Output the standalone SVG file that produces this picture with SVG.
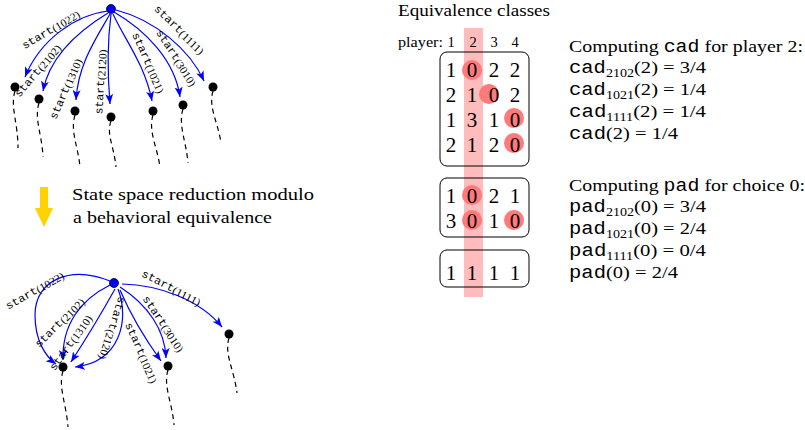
<svg xmlns="http://www.w3.org/2000/svg" width="805" height="430" viewBox="0 0 805 430">
<defs>
<style>
.edge{fill:none;stroke:#0000ff;stroke-width:1.2;marker-end:url(#arr)}
.dash{fill:none;stroke:#000;stroke-width:1.2;stroke-dasharray:5,4}
.lbl{font-family:"Liberation Serif","Times New Roman",serif;font-size:11px;fill:#000}
.tt{font-family:"Liberation Mono","Courier New",monospace;font-weight:normal}
.txt{font-family:"Liberation Serif","Times New Roman",serif;font-size:17.5px;fill:#000}
.dig{font-family:"Liberation Serif","Times New Roman",serif;font-size:21px;fill:#000;text-anchor:middle}
.hdr{font-family:"Liberation Serif","Times New Roman",serif;font-size:14.5px;fill:#000}
.box{fill:none;stroke:#000;stroke-width:1}
.hl{fill:#ff7a7a}
.leaf{fill:#000}
.root{fill:#0000ff;stroke:#000;stroke-width:0.8}
.sub{font-size:12px}
</style>
<marker id="arr" viewBox="0 0 10 8" refX="10" refY="4" markerWidth="10" markerHeight="8" markerUnits="userSpaceOnUse" orient="auto">
<path d="M0,0 L10,4 L0,8 L2.5,4 z" fill="#0000ff"/>
</marker>
</defs>

<!-- Top tree -->
<g id="top-edges">
<path class="edge" d="M108,11 C75,15 40,40 25,77"/>
<path class="edge" d="M108,13 C80,30 50,55 43,91"/>
<path class="edge" d="M110,14 C95,40 78,65 76,100"/>
<path class="edge" d="M111,14 C107,45 108,80 110,104"/>
<path class="edge" d="M113,14 C125,40 145,65 152,101"/>
<path class="edge" d="M114,12 C145,30 175,60 180,97"/>
<path class="edge" d="M116,10 C155,20 190,50 204,81"/>
</g>
<g id="top-labels">
<text class="lbl" text-anchor="middle" dominant-baseline="central" textLength="65" lengthAdjust="spacingAndGlyphs" transform="translate(51,30) rotate(-31)"><tspan class="tt">start</tspan>(1022)</text>
<text class="lbl" text-anchor="middle" dominant-baseline="central" textLength="65" lengthAdjust="spacingAndGlyphs" transform="translate(38,71) rotate(-50)"><tspan class="tt">start</tspan>(2102)</text>
<text class="lbl" text-anchor="middle" dominant-baseline="central" textLength="65" lengthAdjust="spacingAndGlyphs" transform="translate(66,89) rotate(-67)"><tspan class="tt">start</tspan>(1310)</text>
<text class="lbl" text-anchor="middle" dominant-baseline="central" textLength="65" lengthAdjust="spacingAndGlyphs" transform="translate(101,82) rotate(-87)"><tspan class="tt">start</tspan>(2120)</text>
<text class="lbl" text-anchor="middle" dominant-baseline="central" textLength="65" lengthAdjust="spacingAndGlyphs" transform="translate(148,63) rotate(66)"><tspan class="tt">start</tspan>(1021)</text>
<text class="lbl" text-anchor="middle" dominant-baseline="central" textLength="65" lengthAdjust="spacingAndGlyphs" transform="translate(176,58) rotate(57)"><tspan class="tt">start</tspan>(3010)</text>
<text class="lbl" text-anchor="middle" dominant-baseline="central" textLength="65" lengthAdjust="spacingAndGlyphs" transform="translate(179,30) rotate(44)"><tspan class="tt">start</tspan>(1111)</text>
</g>
<g id="top-dashes">
<path class="dash" d="M15,91 C10,107 18,122 18,148"/>
<path class="dash" d="M39,103 C34,119 42,134 43,157"/>
<path class="dash" d="M75,115 C70,131 78,146 80,167"/>
<path class="dash" d="M111,121 C106,134 114,146 116,167"/>
<path class="dash" d="M153,115 C148,131 157,146 160,167"/>
<path class="dash" d="M183,109 C178,125 186,140 188,163"/>
<path class="dash" d="M213,91 C208,107 218,122 221,143"/>
</g>
<g id="top-root"><circle class="root" cx="111" cy="9" r="4.5"/></g>
<g id="top-n1022"><circle class="leaf" cx="15" cy="87" r="4.5"/></g>
<g id="top-n2102"><circle class="leaf" cx="39" cy="99" r="4.5"/></g>
<g id="top-n1310"><circle class="leaf" cx="75" cy="111" r="4.5"/></g>
<g id="top-n2120"><circle class="leaf" cx="111" cy="117" r="4.5"/></g>
<g id="top-n1021"><circle class="leaf" cx="153" cy="111" r="4.5"/></g>
<g id="top-n3010"><circle class="leaf" cx="183" cy="105" r="4.5"/></g>
<g id="top-n1111"><circle class="leaf" cx="213" cy="87" r="4.5"/></g>

<!-- Reduction arrow -->
<g id="reduction">
<path d="M40,187 H48 V208 H53 L44,227 L35,208 H40 Z" fill="#ffd200"/>
<text class="txt" x="72" y="200" textLength="242" lengthAdjust="spacingAndGlyphs">State space reduction modulo</text>
<text class="txt" x="73" y="223" textLength="199" lengthAdjust="spacingAndGlyphs">a behavioral equivalence</text>
</g>

<!-- Bottom tree -->
<g id="bottom-edges">
<path class="edge" d="M110,281 C70,265 35,280 35,315 C35,340 45,356 56,364"/>
<path class="edge" d="M110,285 C80,300 62,325 63,360"/>
<path class="edge" d="M115,289 Q95,325 71,362"/>
<path class="edge" d="M118,289 C130,320 120,362 75,367"/>
<path class="edge" d="M120,290 Q135,325 161,361"/>
<path class="edge" d="M120,287 C148,305 165,330 166,358"/>
<path class="edge" d="M122,284 C160,285 200,300 222,327"/>
</g>
<g id="bottom-labels">
<text class="lbl" text-anchor="middle" dominant-baseline="central" textLength="65" lengthAdjust="spacingAndGlyphs" transform="translate(35,291) rotate(-30)"><tspan class="tt">start</tspan>(1022)</text>
<text class="lbl" text-anchor="middle" dominant-baseline="central" textLength="65" lengthAdjust="spacingAndGlyphs" transform="translate(60,323) rotate(-45)"><tspan class="tt">start</tspan>(2102)</text>
<text class="lbl" text-anchor="middle" dominant-baseline="central" textLength="65" lengthAdjust="spacingAndGlyphs" transform="translate(71,343) rotate(-55)"><tspan class="tt">start</tspan>(1310)</text>
<text class="lbl" text-anchor="middle" dominant-baseline="central" textLength="65" lengthAdjust="spacingAndGlyphs" transform="translate(112,328) rotate(107)"><tspan class="tt">start</tspan>(2120)</text>
<text class="lbl" text-anchor="middle" dominant-baseline="central" textLength="65" lengthAdjust="spacingAndGlyphs" transform="translate(141,353) rotate(66)"><tspan class="tt">start</tspan>(1021)</text>
<text class="lbl" text-anchor="middle" dominant-baseline="central" textLength="65" lengthAdjust="spacingAndGlyphs" transform="translate(163,324) rotate(56)"><tspan class="tt">start</tspan>(3010)</text>
<text class="lbl" text-anchor="middle" dominant-baseline="central" textLength="65" lengthAdjust="spacingAndGlyphs" transform="translate(171,288) rotate(27)"><tspan class="tt">start</tspan>(1111)</text>
</g>
<g id="bottom-dashes">
<path class="dash" d="M63,371 C58,387 66,402 68,427"/>
<path class="dash" d="M168,370 C163,386 172,401 174,425"/>
<path class="dash" d="M229,338 C224,354 234,369 237,393"/>
</g>
<g id="bottom-root"><circle class="root" cx="114" cy="283" r="4.5"/></g>
<g id="bottom-nA"><circle class="leaf" cx="63" cy="367" r="4.5"/></g>
<g id="bottom-nB"><circle class="leaf" cx="168" cy="366" r="4.5"/></g>
<g id="bottom-nC"><circle class="leaf" cx="229" cy="334" r="4.5"/></g>

<!-- Equivalence classes -->
<g id="equiv">
<text class="txt" x="398" y="16" textLength="152" lengthAdjust="spacingAndGlyphs">Equivalence classes</text>
<rect x="464" y="28" width="19" height="269" fill="#ffbcbc"/>
<text class="hdr" x="398" y="47" textLength="45" lengthAdjust="spacingAndGlyphs">player:</text>
<text class="hdr" x="451" y="47" text-anchor="middle">1</text>
<text class="hdr" x="473" y="47" text-anchor="middle">2</text>
<text class="hdr" x="494" y="47" text-anchor="middle">3</text>
<text class="hdr" x="515" y="47" text-anchor="middle">4</text>
</g>
<g id="class1">
<rect class="box" x="440" y="52" width="89" height="114" rx="7"/>
<circle class="hl" cx="472" cy="70" r="10"/>
<circle class="hl" cx="489" cy="94" r="10"/>
<circle class="hl" cx="514" cy="118" r="10"/>
<circle class="hl" cx="514" cy="143" r="10"/>
<text class="dig" y="76.5"><tspan x="451">1</tspan><tspan x="472">0</tspan><tspan x="494">2</tspan><tspan x="515">2</tspan></text>
<text class="dig" y="101.5"><tspan x="451">2</tspan><tspan x="472">1</tspan><tspan x="494">0</tspan><tspan x="515">2</tspan></text>
<text class="dig" y="126.5"><tspan x="451">1</tspan><tspan x="472">3</tspan><tspan x="494">1</tspan><tspan x="515">0</tspan></text>
<text class="dig" y="151.5"><tspan x="451">2</tspan><tspan x="472">1</tspan><tspan x="494">2</tspan><tspan x="515">0</tspan></text>
</g>
<g id="class2">
<rect class="box" x="440" y="178" width="89" height="59" rx="7"/>
<circle class="hl" cx="472" cy="195" r="10"/>
<circle class="hl" cx="472" cy="220" r="10"/>
<circle class="hl" cx="514" cy="220" r="10"/>
<text class="dig" y="202.5"><tspan x="451">1</tspan><tspan x="472">0</tspan><tspan x="494">2</tspan><tspan x="515">1</tspan></text>
<text class="dig" y="227.5"><tspan x="451">3</tspan><tspan x="472">0</tspan><tspan x="494">1</tspan><tspan x="515">0</tspan></text>
</g>
<g id="class3">
<rect class="box" x="440" y="250" width="89" height="37" rx="7"/>
<text class="dig" y="279.5"><tspan x="451">1</tspan><tspan x="472">1</tspan><tspan x="494">1</tspan><tspan x="515">1</tspan></text>
</g>

<!-- Computations -->
<g id="cad">
<text class="txt" x="569" y="52" textLength="234" lengthAdjust="spacingAndGlyphs">Computing <tspan class="tt">cad</tspan> for player 2:</text>
<text class="txt" x="569" y="73" textLength="137" lengthAdjust="spacingAndGlyphs"><tspan class="tt">cad</tspan><tspan class="sub" dy="4">2102</tspan><tspan dy="-4">(2) = 3/4</tspan></text>
<text class="txt" x="569" y="95" textLength="137" lengthAdjust="spacingAndGlyphs"><tspan class="tt">cad</tspan><tspan class="sub" dy="4">1021</tspan><tspan dy="-4">(2) = 1/4</tspan></text>
<text class="txt" x="569" y="117" textLength="137" lengthAdjust="spacingAndGlyphs"><tspan class="tt">cad</tspan><tspan class="sub" dy="4">1111</tspan><tspan dy="-4">(2) = 1/4</tspan></text>
<text class="txt" x="569" y="139" textLength="109" lengthAdjust="spacingAndGlyphs"><tspan class="tt">cad</tspan>(2) = 1/4</text>
</g>
<g id="pad">
<text class="txt" x="569" y="191" textLength="236" lengthAdjust="spacingAndGlyphs">Computing <tspan class="tt">pad</tspan> for choice 0:</text>
<text class="txt" x="569" y="212" textLength="137" lengthAdjust="spacingAndGlyphs"><tspan class="tt">pad</tspan><tspan class="sub" dy="4">2102</tspan><tspan dy="-4">(0) = 3/4</tspan></text>
<text class="txt" x="569" y="234" textLength="137" lengthAdjust="spacingAndGlyphs"><tspan class="tt">pad</tspan><tspan class="sub" dy="4">1021</tspan><tspan dy="-4">(0) = 2/4</tspan></text>
<text class="txt" x="569" y="256" textLength="137" lengthAdjust="spacingAndGlyphs"><tspan class="tt">pad</tspan><tspan class="sub" dy="4">1111</tspan><tspan dy="-4">(0) = 0/4</tspan></text>
<text class="txt" x="569" y="278" textLength="109" lengthAdjust="spacingAndGlyphs"><tspan class="tt">pad</tspan>(0) = 2/4</text>
</g>
</svg>
